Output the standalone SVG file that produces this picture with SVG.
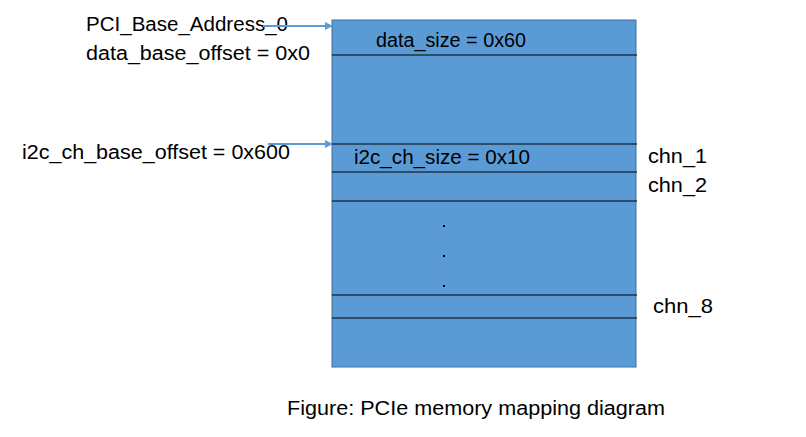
<svg xmlns="http://www.w3.org/2000/svg" width="806" height="437" viewBox="0 0 806 437">
<style>
text{font-family:"Liberation Sans",Arial,sans-serif;font-size:20px;fill:#000}
.sep{stroke:#000;stroke-width:1}
.arr{stroke:#5B9BD5;stroke-width:2;fill:none}
</style>
<defs>
<marker id="ah" viewBox="0 0 10 10" refX="9" refY="5" markerWidth="8" markerHeight="8" orient="auto" markerUnits="userSpaceOnUse"><path d="M0,0L10,5L0,10z" fill="#5B9BD5"/></marker>
</defs>
<rect width="806" height="437" fill="#fff"/>
<g id="memory">
<rect x="332" y="20" width="304" height="347" fill="#5B9BD5" stroke="#41719C" stroke-width="1"/>
<line class="sep" x1="332" y1="55" x2="637" y2="55"/>
<line class="sep" x1="332" y1="144" x2="637" y2="144"/>
<line class="sep" x1="332" y1="172" x2="637" y2="172"/>
<line class="sep" x1="332" y1="201" x2="637" y2="201"/>
<line class="sep" x1="332" y1="295" x2="637" y2="295"/>
<line class="sep" x1="332" y1="318" x2="637" y2="318"/>
<text x="376" y="47" textLength="150" lengthAdjust="spacingAndGlyphs">data_size = 0x60</text>
<text x="354" y="164" textLength="176" lengthAdjust="spacingAndGlyphs">i2c_ch_size = 0x10</text>
<rect x="443" y="225" width="2" height="2" fill="#000"/>
<rect x="443" y="255" width="2" height="2" fill="#000"/>
<rect x="443" y="285" width="2" height="2" fill="#000"/>
</g>
<g id="labels">
<text x="86" y="31" textLength="202" lengthAdjust="spacingAndGlyphs">PCI_Base_Address_0</text>
<text x="86" y="60" textLength="224" lengthAdjust="spacingAndGlyphs">data_base_offset = 0x0</text>
<text x="22" y="159" textLength="268" lengthAdjust="spacingAndGlyphs">i2c_ch_base_offset = 0x600</text>
<text x="648" y="163" textLength="59" lengthAdjust="spacingAndGlyphs">chn_1</text>
<text x="648" y="192" textLength="59" lengthAdjust="spacingAndGlyphs">chn_2</text>
<text x="653" y="313" textLength="60" lengthAdjust="spacingAndGlyphs">chn_8</text>
<text x="287" y="415" textLength="378" lengthAdjust="spacingAndGlyphs">Figure: PCIe memory mapping diagram</text>
</g>
<g id="connectors">
<line class="arr" x1="263" y1="26" x2="332" y2="26" marker-end="url(#ah)"/>
<line class="arr" x1="268" y1="144" x2="332" y2="144" marker-end="url(#ah)"/>
</g>
</svg>
